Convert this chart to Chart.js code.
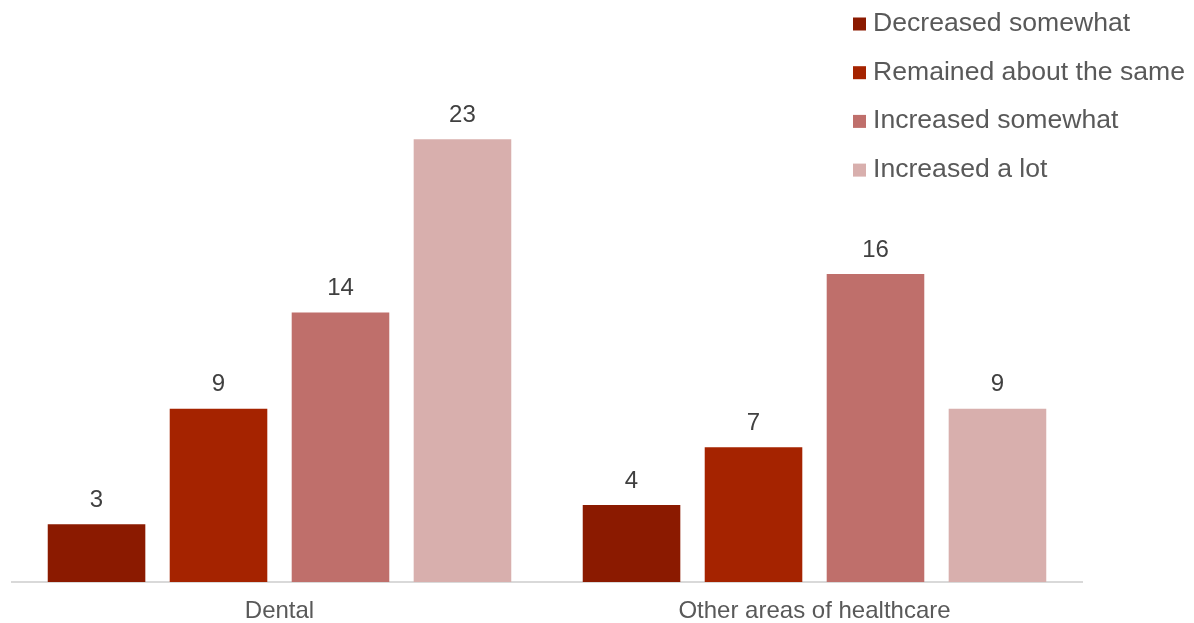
<!DOCTYPE html>
<html>
<head>
<meta charset="utf-8">
<script src="https://cdn.jsdelivr.net/npm/chart.js@4/dist/chart.umd.min.js"></script>
<style>
  html, body { margin: 0; padding: 0; background: #fff; }
  #wrap { width: 1194px; height: 623px; position: relative; }
</style>
</head>
<body>
<div id="wrap"><canvas id="barChart"></canvas></div>
<script>
var categories = ["Dental", "Other areas of healthcare"];
var seriesNames = ["Decreased somewhat", "Remained about the same", "Increased somewhat", "Increased a lot"];
var decreasedSomewhat = [3, 4];
var remainedSame = [9, 7];
var increasedSomewhat = [14, 16];
var increasedALot = [23, 9];
var seriesColors = ["#8B1A00", "#A52300", "#BF6F6B", "#D8AFAD"];

var seriesValues = [decreasedSomewhat, remainedSame, increasedSomewhat, increasedALot];

// value labels above every bar
var valueLabels = {
    id: 'valueLabels',
    afterDatasetsDraw: function(chart) {
        var ctx = chart.ctx;
        ctx.save();
        ctx.font = '24px "Liberation Sans", Arial, sans-serif';
        ctx.fillStyle = '#404040';
        ctx.textAlign = 'center';
        ctx.textBaseline = 'middle';
        chart.data.datasets.forEach(function(ds, i) {
            chart.getDatasetMeta(i).data.forEach(function(bar, j) {
                ctx.fillText(ds.data[j], bar.x, bar.y - 24);
            });
        });
        ctx.restore();
    }
};

// legend stacked in the top right corner, over the plot
var cornerLegend = {
    id: 'cornerLegend',
    afterDraw: function(chart) {
        var ctx = chart.ctx;
        ctx.save();
        ctx.font = '26.6px "Liberation Sans", Arial, sans-serif';
        ctx.textBaseline = 'middle';
        ctx.textAlign = 'left';
        chart.data.datasets.forEach(function(ds, i) {
            var y = 23.5 + i * 48.7;
            ctx.fillStyle = ds.backgroundColor;
            ctx.fillRect(853, y - 6, 13, 13);
            ctx.fillStyle = '#595959';
            ctx.fillText(ds.label, 873, y);
        });
        ctx.restore();
    }
};

var datasets = [];
for (var i = 0; i < seriesNames.length; i++) {
    datasets.push({
        label: seriesNames[i],
        data: seriesValues[i],
        backgroundColor: seriesColors[i],
        categoryPercentage: 0.912,
        barPercentage: 0.8
    });
}

var ctx = document.getElementById("barChart").getContext('2d');
var myBarChart = new Chart(ctx, {
    type: 'bar',
    data: {
        labels: categories,
        datasets: datasets
    },
    options: {
        responsive: true,
        maintainAspectRatio: false,
        animation: false,
        layout: {
            padding: { left: 12, right: 112, top: 43, bottom: 0 }
        },
        plugins: {
            legend: { display: false },
            tooltip: { enabled: false }
        },
        scales: {
            x: {
                grid: { display: false, drawTicks: false },
                border: { display: true, color: '#D9D9D9', width: 2 },
                ticks: {
                    color: '#595959',
                    padding: 15,
                    font: { size: 24, family: '"Liberation Sans", Arial, sans-serif' }
                },
                afterFit: function(scale) { scale.height = 41; }
            },
            y: {
                display: false,
                min: 0,
                max: 28
            }
        }
    },
    plugins: [valueLabels, cornerLegend]
});
</script>
</body>
</html>
